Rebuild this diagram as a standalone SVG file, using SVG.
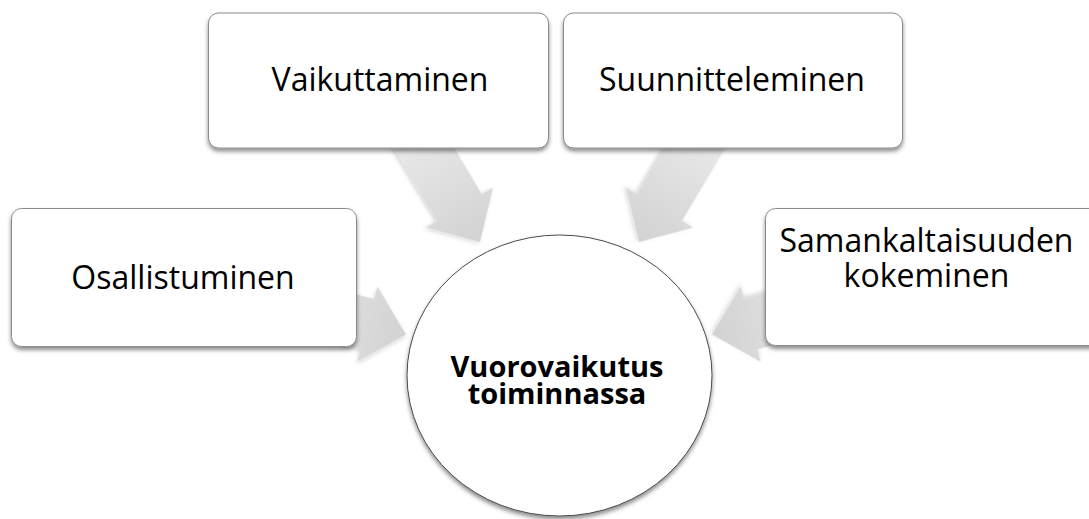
<svg xmlns="http://www.w3.org/2000/svg" width="1089" height="519" viewBox="0 0 1089 519">
<style>
.box{fill:#ffffff;stroke:#8a8a8a;stroke-width:1;filter:url(#sh)}
.lbl{font-family:"Open Sans","Liberation Sans",sans-serif;font-size:32px;fill:#000;text-anchor:middle}
.ctr{font-family:"Open Sans","Liberation Sans",sans-serif;font-size:29px;font-weight:bold;fill:#000;text-anchor:middle}
.arr{fill:url(#ag);filter:url(#ash)}
</style>
<defs>
<filter id="sh" x="-10%" y="-10%" width="120%" height="130%">
<feDropShadow dx="0" dy="3" stdDeviation="2" flood-color="#000" flood-opacity="0.45"/>
</filter>
<filter id="ash" x="-20%" y="-20%" width="140%" height="140%">
<feDropShadow dx="0" dy="2" stdDeviation="2" flood-color="#000" flood-opacity="0.18"/>
</filter>
<linearGradient id="ag" gradientUnits="userSpaceOnUse" x1="-120" y1="0" x2="0" y2="0">
<stop offset="0" stop-color="#e8e8e8"/>
<stop offset="1" stop-color="#d2d2d2"/>
</linearGradient>
</defs>
<g id="connectors">
<polygon class="arr" transform="translate(480,242) rotate(59.2)" points="0,0 -40,-39 -40,-26 -125,-26 -125,26 -40,26 -40,39"/>
<polygon class="arr" transform="translate(639,242) rotate(120.8)" points="0,0 -40,-39 -40,-26 -125,-26 -125,26 -40,26 -40,39"/>
<polygon class="arr" transform="translate(406,334.5) rotate(15)" points="0,0 -40,-39 -40,-26 -90,-26 -90,26 -40,26 -40,39"/>
<polygon class="arr" transform="translate(712,334.5) rotate(165)" points="0,0 -40,-39 -40,-26 -90,-26 -90,26 -40,26 -40,39"/>
</g>
<g id="n-vaikuttaminen">
<rect class="box" x="208.5" y="13" width="340" height="135" rx="10"/>
<text class="lbl" x="380" y="91">Vaikuttaminen</text>
</g>
<g id="n-suunnitteleminen">
<rect class="box" x="563.5" y="13" width="339" height="135" rx="10"/>
<text class="lbl" x="732" y="91">Suunnitteleminen</text>
</g>
<g id="n-osallistuminen">
<rect class="box" x="11.5" y="208.5" width="345" height="138" rx="10"/>
<text class="lbl" x="183" y="289">Osallistuminen</text>
</g>
<g id="n-samankaltaisuuden">
<rect class="box" x="765.5" y="208.5" width="345" height="137" rx="10"/>
<text class="lbl" x="926.5" y="252"><tspan x="926.5" y="252">Samankaltaisuuden</tspan><tspan x="926.5" y="287">kokeminen</tspan></text>
</g>
<g id="n-center">
<ellipse cx="559.5" cy="375.5" rx="152.5" ry="140.5" fill="#ffffff" stroke="#4a4a4a" stroke-width="1" filter="url(#sh)"/>
<text class="ctr" x="557" y="377"><tspan x="557" y="377">Vuorovaikutus</tspan><tspan x="557" y="404">toiminnassa</tspan></text>
</g>
</svg>
